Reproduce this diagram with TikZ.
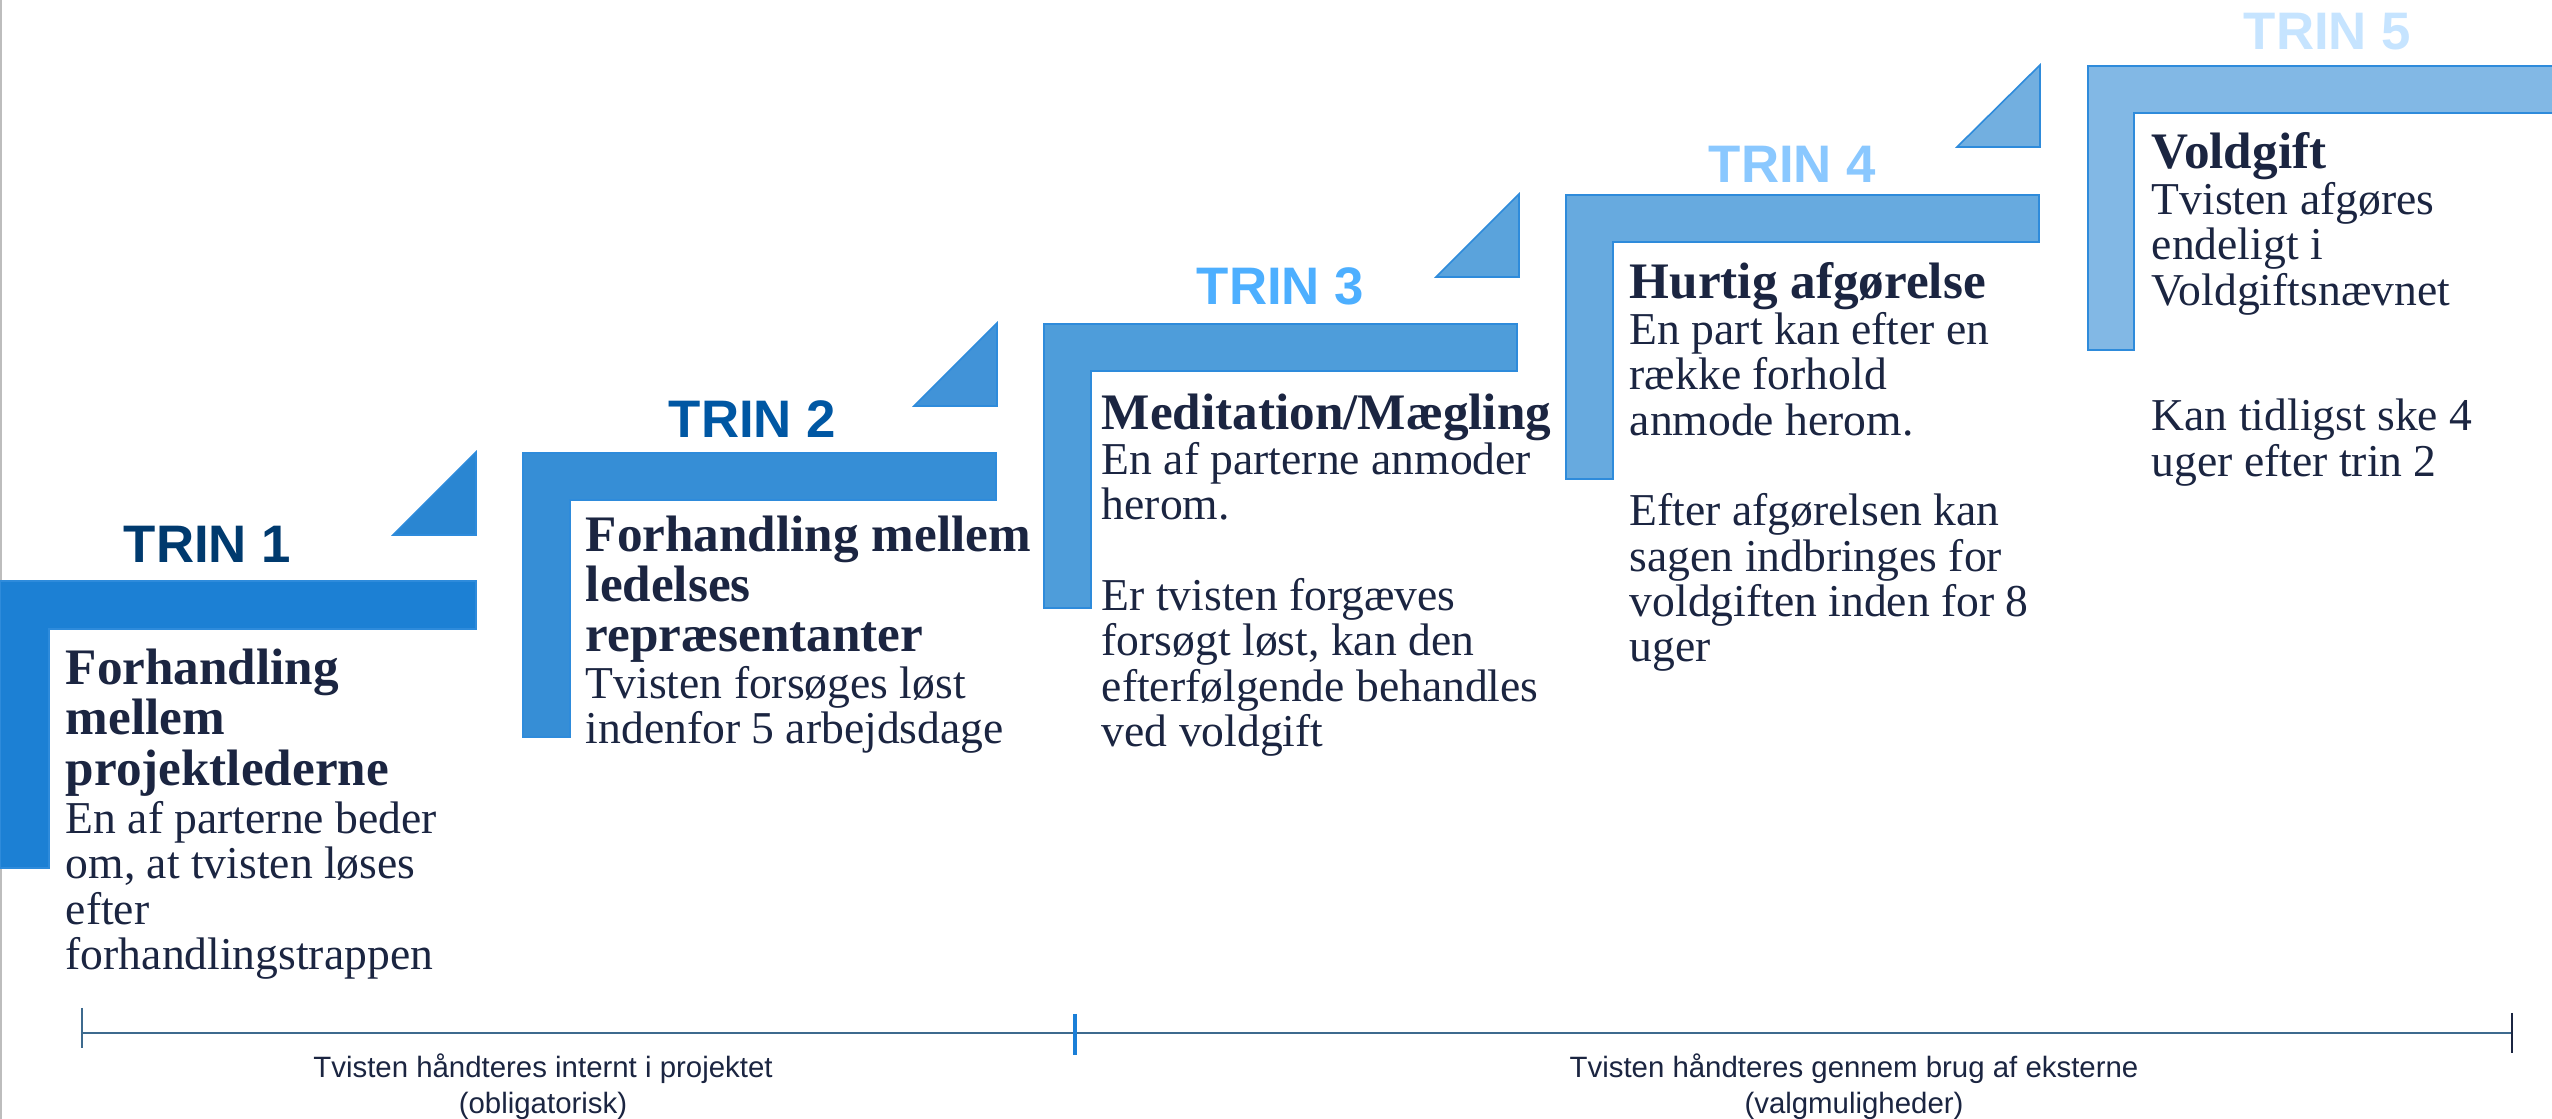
\documentclass[tikz,border=0pt]{standalone}
\usepackage{fontspec}
\setmainfont{Liberation Serif}
\newfontfamily\sansf{Liberation Sans}
\definecolor{txt}{HTML}{1B2541}
\definecolor{barline}{HTML}{2E8BDB}
\definecolor{barA}{HTML}{1C80D4}
\definecolor{barB}{HTML}{368ED6}
\definecolor{barC}{HTML}{4E9DDA}
\definecolor{barD}{HTML}{67AADF}
\definecolor{barE}{HTML}{82B8E5}
\definecolor{triA}{HTML}{2A86D2}
\definecolor{triB}{HTML}{4193D8}
\definecolor{triC}{HTML}{5AA3DC}
\definecolor{triD}{HTML}{72AFE0}
\definecolor{trinA}{HTML}{003A6E}
\definecolor{trinB}{HTML}{0057A3}
\definecolor{trinC}{HTML}{4DAFFF}
\definecolor{trinD}{HTML}{8AC8FF}
\definecolor{trinE}{HTML}{C6E4FF}
\definecolor{axis}{HTML}{3D6A8E}
\definecolor{midtick}{HTML}{1A7FD8}
\definecolor{border}{HTML}{BDBDBD}
\tikzset{
  stepbar/.style={draw=barline, line width=0.4pt},
  trinlabel/.style={anchor=base west, inner sep=0pt, font=\sansf\bfseries\fontsize{13.2}{14}\selectfont},
  titletext/.style={anchor=north west, inner sep=0pt, text=txt, font=\bfseries\fontsize{12.8}{12.5}\selectfont},
  bodytext/.style={anchor=north west, inner sep=0pt, text=txt, font=\fontsize{11.4}{11.25}\selectfont},
  axistext/.style={anchor=north, inner sep=0pt, text=txt, font=\sansf\fontsize{7.35}{9}\selectfont},
  axisline/.style={draw=axis, line width=0.6pt},
}
\begin{document}
\begin{tikzpicture}[x=0.25pt,y=-0.25pt]
\useasboundingbox (0,0) rectangle (2552,1119);
\fill[white] (0,0) rectangle (2552,1119);
% left page border
\coordinate (bt) at (1,0);
\coordinate (bb) at (1,1119);
\draw[border, line width=0.5pt] (bt) -- (bb);

% step bars (L-shapes)
\filldraw[stepbar, fill=barA] (0,581) -- (476,581) -- (476,629) -- (49,629) -- (49,868) -- (0,868) -- cycle;
\filldraw[stepbar, fill=barB] (523,453) -- (996,453) -- (996,500) -- (570,500) -- (570,737) -- (523,737) -- cycle;
\filldraw[stepbar, fill=barC] (1044,324) -- (1517,324) -- (1517,371) -- (1091,371) -- (1091,608) -- (1044,608) -- cycle;
\filldraw[stepbar, fill=barD] (1566,195) -- (2039,195) -- (2039,242) -- (1613,242) -- (1613,479) -- (1566,479) -- cycle;
\filldraw[stepbar, fill=barE] (2088,66) -- (2570,66) -- (2570,113) -- (2134,113) -- (2134,350) -- (2088,350) -- cycle;

% triangles
\filldraw[stepbar, fill=triA] (393,535) -- (476,535) -- (476,452) -- cycle;
\filldraw[stepbar, fill=triB] (914,406) -- (997,406) -- (997,323) -- cycle;
\filldraw[stepbar, fill=triC] (1436,277) -- (1519,277) -- (1519,194) -- cycle;
\filldraw[stepbar, fill=triD] (1957,147) -- (2040,147) -- (2040,65) -- cycle;

% TRIN labels
\node[trinlabel, text=trinA] (trin1) at (123,563) {TRIN 1};
\node[trinlabel, text=trinB] (trin2) at (668,438) {TRIN 2};
\node[trinlabel, text=trinC] (trin3) at (1196,305) {TRIN 3};
\node[trinlabel, text=trinD] (trin4) at (1708,183) {TRIN 4};
\node[trinlabel, text=trinE] (trin5) at (2243,50) {TRIN 5};

% step 1
\node[titletext] (t1) at (65,648) {\begin{tabular}{@{}l@{}}Forhandling\\mellem\\projektlederne\end{tabular}};
\node[bodytext] (b1) at (65,800.5) {\begin{tabular}{@{}l@{}}En af parterne beder\\om, at tvisten løses\\efter\\forhandlingstrappen\end{tabular}};
% step 2
\node[titletext] (t2) at (585,515) {\begin{tabular}{@{}l@{}}Forhandling mellem\\ledelses\\repræsentanter\end{tabular}};
\node[bodytext] (b2) at (585,665.5) {\begin{tabular}{@{}l@{}}Tvisten forsøges løst\\indenfor 5 arbejdsdage\end{tabular}};
% step 3
\node[titletext] (t3) at (1101,393) {\begin{tabular}{@{}l@{}}Meditation/Mægling\end{tabular}};
\node[bodytext] (b3) at (1101,441.5) {\begin{tabular}{@{}l@{}}En af parterne anmoder\\herom.\\ \\Er tvisten forgæves\\forsøgt løst, kan den\\efterfølgende behandles\\ved voldgift\end{tabular}};
% step 4
\node[titletext] (t4) at (1629,262) {\begin{tabular}{@{}l@{}}Hurtig afgørelse\end{tabular}};
\node[bodytext] (b4) at (1629,311.5) {\begin{tabular}{@{}l@{}}En part kan efter en\\række forhold\\anmode herom.\\ \\Efter afgørelsen kan\\sagen indbringes for\\voldgiften inden for 8\\uger\end{tabular}};
% step 5
\node[titletext] (t5) at (2151,132) {\begin{tabular}{@{}l@{}}Voldgift\end{tabular}};
\node[bodytext] (b5) at (2151,181.5) {\begin{tabular}{@{}l@{}}Tvisten afgøres\\endeligt i\\Voldgiftsnævnet\end{tabular}};
\node[bodytext] (b5b) at (2151,398.5) {\begin{tabular}{@{}l@{}}Kan tidligst ske 4\\uger efter trin 2\end{tabular}};

% timeline
\coordinate (axL) at (82,1033);
\coordinate (axM) at (1075,1033);
\coordinate (axR) at (2512,1033);
\draw[axisline] (axL) -- (axR);
\coordinate (tkLt) at (82,1008);
\coordinate (tkLb) at (82,1048);
\draw[axis, line width=0.4pt] (tkLt) -- (tkLb);
\coordinate (tkMt) at (1075,1014);
\coordinate (tkMb) at (1075,1055);
\draw[midtick, line width=0.9pt] (tkMt) -- (tkMb);
\coordinate (tkRt) at (2512,1013);
\coordinate (tkRb) at (2512,1053);
\draw[txt, line width=0.35pt] (tkRt) -- (tkRb);

\node[axistext] (ax1) at (543,1051.8) {\begin{tabular}{@{}c@{}}Tvisten håndteres internt i projektet\\(obligatorisk)\end{tabular}};
\node[axistext] (ax2) at (1854,1051.8) {\begin{tabular}{@{}c@{}}Tvisten håndteres gennem brug af eksterne\\(valgmuligheder)\end{tabular}};
\end{tikzpicture}
\end{document}
